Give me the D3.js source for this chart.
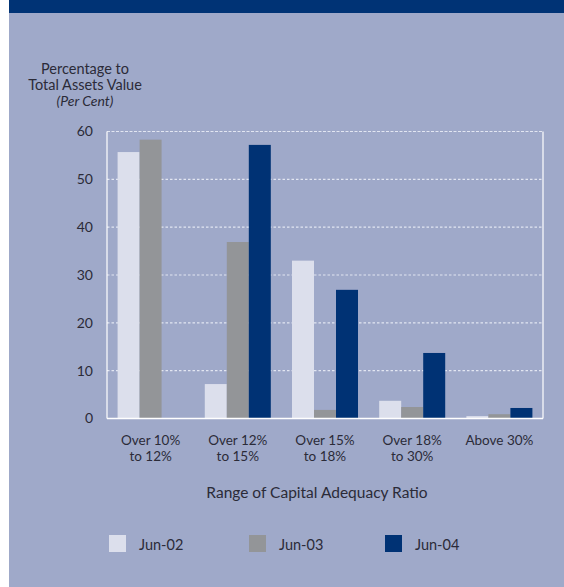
<!DOCTYPE html>
<html>
<head>
<meta charset="utf-8">
<script src="https://cdn.jsdelivr.net/npm/d3@7/dist/d3.min.js"></script>
<style>
  html, body { margin: 0; padding: 0; background: #ffffff; }
  svg { display: block; }
  text { font-family: Lato, "Open Sans", sans-serif; fill: #2b2b38; }
</style>
</head>
<body>
<script>
// Capital adequacy ratio ranges and the share of total assets value in each
const categories = [
  ["Over 10%", "to 12%"],
  ["Over 12%", "to 15%"],
  ["Over 15%", "to 18%"],
  ["Over 18%", "to 30%"],
  ["Above 30%"]
];
const seriesNames = ["Jun-02", "Jun-03", "Jun-04"];
const jun02 = [55.7, 7.2, 33.0, 3.7, 0.5];
const jun03 = [58.3, 36.9, 1.8, 2.4, 0.9];
const jun04 = [0.0, 57.2, 26.9, 13.7, 2.2];
const yTicks = [0, 10, 20, 30, 40, 50, 60];
const seriesColors = ["#dcdfec", "#939598", "#003274"];

const W = 564, H = 587;
const svg = d3.select("body").append("svg").attr("width", W).attr("height", H);

// panel background and header strip
svg.append("rect").attr("x", 9).attr("y", 0).attr("width", W - 9).attr("height", H).attr("fill", "#9fa9c9");
svg.append("rect").attr("x", 9).attr("y", 0).attr("width", W - 9).attr("height", 13).attr("fill", "#003375");

const plot = { left: 107, right: 543, top: 131.5, bottom: 418.5 };

const catKeys = categories.map(c => c.join(" "));
const x0 = d3.scaleBand().domain(catKeys).range([plot.left, plot.right]).paddingInner(0.243).paddingOuter(0.1215);
const x1 = d3.scaleBand().domain(seriesNames).range([0, x0.bandwidth()]);
const y = d3.scaleLinear().domain([0, 60]).range([plot.bottom, plot.top]);

// dotted gridlines
svg.append("g").selectAll("line").data(yTicks.filter(t => t > 0)).join("line")
  .attr("x1", plot.left).attr("x2", plot.right)
  .attr("y1", d => y(d)).attr("y2", d => y(d))
  .attr("stroke", "#e2e6f2").attr("stroke-width", 1.2)
  .attr("stroke-dasharray", d => d === 60 ? "3,1.5" : "2.5,2");

// right border
svg.append("line").attr("x1", plot.right).attr("x2", plot.right)
  .attr("y1", plot.top).attr("y2", plot.bottom)
  .attr("stroke", "#ffffff").attr("stroke-width", 1.2);

// bars
const seriesValues = [jun02, jun03, jun04];
const rows = catKeys.map((k, i) => ({ key: k, vals: seriesNames.map((s, j) => ({ s, v: seriesValues[j][i], c: seriesColors[j] })) }));
const groups = svg.append("g").selectAll("g").data(rows).join("g")
  .attr("transform", d => `translate(${x0(d.key)},0)`);
groups.selectAll("rect").data(d => d.vals).join("rect")
  .attr("x", d => x1(d.s)).attr("width", x1.bandwidth())
  .attr("y", d => y(d.v)).attr("height", d => y(0) - y(d.v))
  .attr("fill", d => d.c);

// axes lines
svg.append("line").attr("x1", plot.left).attr("x2", plot.right)
  .attr("y1", plot.bottom).attr("y2", plot.bottom)
  .attr("stroke", "#ffffff").attr("stroke-width", 1.5);
svg.append("line").attr("x1", plot.left).attr("x2", plot.left)
  .attr("y1", plot.top).attr("y2", plot.bottom)
  .attr("stroke", "#ffffff").attr("stroke-width", 1.2);

// y tick labels
const yAxis = d3.axisLeft(y).tickValues(yTicks).tickSize(0).tickPadding(0);
const ya = svg.append("g").attr("transform", `translate(${93},0)`).call(yAxis);
ya.select(".domain").remove();
ya.selectAll("text").attr("font-size", 14).attr("font-family", "Lato, sans-serif").attr("fill", "#2b2b38").attr("dy", "0.32em");

// x category labels
const xl = svg.append("g").selectAll("text").data(categories).join("text")
  .attr("x", (d, i) => x0(catKeys[i]) + x0.bandwidth() / 2)
  .attr("y", 445).attr("text-anchor", "middle").attr("font-size", 13.5);
xl.selectAll("tspan").data(d => d).join("tspan")
  .attr("x", function () { return this.parentNode.getAttribute("x"); })
  .attr("dy", (d, i) => i === 0 ? 0 : 15.5)
  .text(d => d);

// y axis title
const yt = svg.append("text").attr("text-anchor", "middle").attr("font-size", 14.5);
yt.append("tspan").attr("x", 85).attr("y", 74).text("Percentage to");
yt.append("tspan").attr("x", 85).attr("y", 90).text("Total Assets Value");
yt.append("tspan").attr("x", 85).attr("y", 106).attr("font-style", "italic").attr("font-size", 14).text("(Per Cent)");

// x axis title
svg.append("text").attr("x", 317).attr("y", 498).attr("text-anchor", "middle")
  .attr("font-size", 15.5).text("Range of Capital Adequacy Ratio");

// legend
const legendX = [109, 249, 385];
const lg = svg.append("g").selectAll("g").data(seriesNames).join("g")
  .attr("transform", (d, i) => `translate(${legendX[i]},535)`);
lg.append("rect").attr("width", 17).attr("height", 17).attr("fill", (d, i) => seriesColors[i]);
lg.append("text").attr("x", 30).attr("y", 14.5).attr("font-size", 14.5).text(d => d);
</script>
</body>
</html>
